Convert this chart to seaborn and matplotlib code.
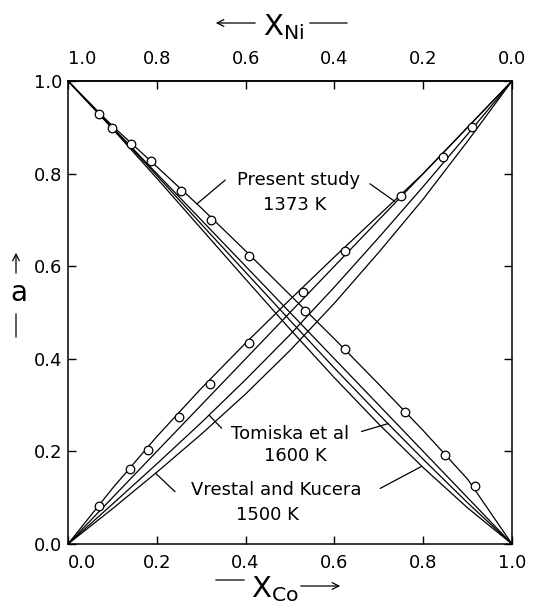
import numpy as np
import pandas as pd
import seaborn as sns
import matplotlib.pyplot as plt

# mole fraction of Co (bottom axis)
x_grid = [0.0, 0.1, 0.2, 0.3, 0.4, 0.5, 0.6, 0.7, 0.8, 0.9, 1.0]

# activity of Co
a_co_present = [0.0, 0.12, 0.232, 0.336, 0.434, 0.528, 0.62, 0.71, 0.80, 0.90, 1.0]
a_co_ideal = [0.0, 0.1, 0.2, 0.3, 0.4, 0.5, 0.6, 0.7, 0.8, 0.9, 1.0]
a_co_tomiska = [0.0, 0.086, 0.173, 0.262, 0.355, 0.452, 0.555, 0.662, 0.772, 0.885, 1.0]
a_co_vrestal = [0.0, 0.076, 0.155, 0.237, 0.324, 0.418, 0.52, 0.63, 0.745, 0.87, 1.0]

# activity of Ni
a_ni_present = [1.0, 0.903, 0.815, 0.726, 0.633, 0.538, 0.443, 0.345, 0.245, 0.14, 0.0]
a_ni_ideal = [1.0, 0.9, 0.8, 0.7, 0.6, 0.5, 0.4, 0.3, 0.2, 0.1, 0.0]
a_ni_tomiska = [1.0, 0.899, 0.796, 0.691, 0.587, 0.483, 0.38, 0.28, 0.183, 0.089, 0.0]
a_ni_vrestal = [1.0, 0.897, 0.79, 0.681, 0.572, 0.464, 0.359, 0.259, 0.165, 0.078, 0.0]

# measured points, present study
co_pts_x = [0.07, 0.14, 0.18, 0.25, 0.32, 0.407, 0.53, 0.623, 0.75, 0.844, 0.911]
co_pts_a = [0.082, 0.161, 0.204, 0.275, 0.346, 0.434, 0.545, 0.632, 0.751, 0.835, 0.900]
ni_pts_x = [0.07, 0.10, 0.143, 0.188, 0.255, 0.321, 0.407, 0.534, 0.624, 0.759, 0.85, 0.916]
ni_pts_a = [0.929, 0.899, 0.865, 0.827, 0.762, 0.699, 0.621, 0.503, 0.421, 0.286, 0.193, 0.125]

tick_vals = [0.0, 0.2, 0.4, 0.6, 0.8, 1.0]

curves = {
    'co_present': a_co_present, 'co_ideal': a_co_ideal,
    'co_tomiska': a_co_tomiska, 'co_vrestal': a_co_vrestal,
    'ni_present': a_ni_present, 'ni_ideal': a_ni_ideal,
    'ni_tomiska': a_ni_tomiska, 'ni_vrestal': a_ni_vrestal,
}
lines_df = pd.concat(
    [pd.DataFrame({'x': x_grid, 'a': v, 'curve': k}) for k, v in curves.items()],
    ignore_index=True)
pts_df = pd.DataFrame({'x': co_pts_x + ni_pts_x, 'a': co_pts_a + ni_pts_a})

sns.set_style("ticks")
plt.rcParams['font.family'] = ['DejaVu Sans']
plt.rcParams.update({'text.color': 'black', 'xtick.color': 'black',
                     'ytick.color': 'black', 'axes.edgecolor': 'black'})

W, H = 535, 613
fig = plt.figure(figsize=(W / 100, H / 100), dpi=100)
ax = fig.add_axes([68 / W, 1 - 544 / H, 444 / W, 463 / H])

sns.lineplot(data=lines_df, x='x', y='a', units='curve', estimator=None,
             sort=False, color='black', lw=0.9, ax=ax)
sns.scatterplot(data=pts_df, x='x', y='a', marker='o', s=38, color='white',
                edgecolor='black', linewidth=0.9, zorder=3, ax=ax)

ax.set_xlim(0, 1)
ax.set_ylim(0, 1)
ax.set_xlabel('')
ax.set_ylabel('')
ax.set_xticks(tick_vals)
ax.set_yticks(tick_vals)
ax.set_xticklabels([f'{v:.1f}' for v in tick_vals])
ax.set_yticklabels([f'{v:.1f}' for v in tick_vals])
ax.tick_params(direction='in', length=6, width=1, labelsize=13, right=True)
ax.tick_params(axis='x', pad=7)
ax.tick_params(axis='y', pad=4)
ax.get_xticklabels()[0].set_ha('left')
for s in ax.spines.values():
    s.set_linewidth(1.1)

top = ax.secondary_xaxis('top', functions=(lambda v: 1 - v, lambda v: 1 - v))
top.set_xticks(tick_vals)
top.set_xticklabels([f'{v:.1f}' for v in tick_vals])
top.tick_params(direction='in', length=6, width=1, labelsize=13, pad=9)
top.spines['top'].set_linewidth(1.1)
for lab in top.get_xticklabels():
    if lab.get_text() == '1.0':
        lab.set_ha('left')

# curve annotations
ax.text(0.52, 0.786, 'Present study', ha='center', va='center', fontsize=13)
ax.text(0.511, 0.732, '1373 K', ha='center', va='center', fontsize=13)
ax.plot([0.354, 0.291], [0.786, 0.735], color='black', lw=0.9)
ax.plot([0.680, 0.736], [0.778, 0.740], color='black', lw=0.9)

ax.text(0.50, 0.238, 'Tomiska et al', ha='center', va='center', fontsize=13)
ax.text(0.511, 0.190, '1600 K', ha='center', va='center', fontsize=13)
ax.plot([0.346, 0.318], [0.250, 0.278], color='black', lw=0.9)
ax.plot([0.661, 0.721], [0.243, 0.260], color='black', lw=0.9)

ax.text(0.468, 0.117, 'Vrestal and Kucera', ha='center', va='center', fontsize=13)
ax.text(0.450, 0.063, '1500 K', ha='center', va='center', fontsize=13)
ax.plot([0.241, 0.197], [0.113, 0.153], color='black', lw=0.9)
ax.plot([0.703, 0.797], [0.120, 0.168], color='black', lw=0.9)


def fp(px, py):
    return (px / W, 1 - py / H)


arrow = dict(arrowstyle='->', lw=0.9, color='black', mutation_scale=12)
line = dict(arrowstyle='-', lw=0.9, color='black')

# top label: <- X_Ni --
fig.text(*fp(263, 35), r'$\mathregular{X_{Ni}}$', ha='left', va='baseline', fontsize=21)
ax.annotate('', xy=fp(213, 23), xytext=fp(258, 23), xycoords='figure fraction',
            textcoords='figure fraction', arrowprops=arrow)
ax.annotate('', xy=fp(350, 23), xytext=fp(307, 23), xycoords='figure fraction',
            textcoords='figure fraction', arrowprops=line)

# bottom label: -- X_Co ->
fig.text(*fp(251, 597), r'$\mathregular{X_{Co}}$', ha='left', va='baseline', fontsize=21)
ax.annotate('', xy=fp(247, 580), xytext=fp(213, 580), xycoords='figure fraction',
            textcoords='figure fraction', arrowprops=line)
ax.annotate('', xy=fp(343, 586), xytext=fp(298, 586), xycoords='figure fraction',
            textcoords='figure fraction', arrowprops=arrow)

# left label: a with arrow up
fig.text(*fp(19, 293), 'a', ha='center', va='center', fontsize=20)
ax.annotate('', xy=fp(16, 250), xytext=fp(16, 276), xycoords='figure fraction',
            textcoords='figure fraction', arrowprops=arrow)
ax.annotate('', xy=fp(16, 340), xytext=fp(16, 311), xycoords='figure fraction',
            textcoords='figure fraction', arrowprops=line)

fig.savefig('out.png', dpi=100)
